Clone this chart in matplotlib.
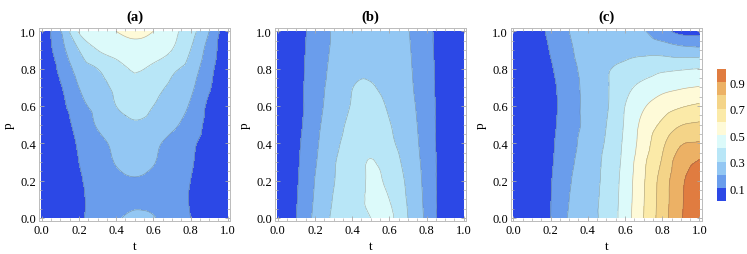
import numpy as np
import matplotlib
matplotlib.use("Agg")
import matplotlib.pyplot as plt
import matplotlib.tri as mtri
from matplotlib.colors import ListedColormap, BoundaryNorm
from matplotlib.ticker import MultipleLocator, FormatStrFormatter

plt.rcParams['font.family'] = ['Liberation Serif', 'DejaVu Serif']

# grid the values were read on (t across, p up)
t_grid = [0.0, 0.1, 0.2, 0.3, 0.4, 0.5, 0.6, 0.7, 0.8, 0.9, 1.0]
p_grid = [0.0, 0.1, 0.2, 0.3, 0.4, 0.5, 0.6, 0.7, 0.8, 0.9, 1.0]

# panel (a), one row per p value (bottom to top)
vals_a = [
    [0.02, 0.04, 0.085, 0.14, 0.19, 0.215, 0.205, 0.15, 0.10, 0.05, 0.02],
    [0.02, 0.04, 0.085, 0.13, 0.17, 0.185, 0.175, 0.14, 0.095, 0.05, 0.02],
    [0.02, 0.05, 0.09, 0.14, 0.18, 0.195, 0.18, 0.14, 0.10, 0.05, 0.02],
    [0.02, 0.05, 0.10, 0.15, 0.205, 0.225, 0.205, 0.15, 0.11, 0.05, 0.02],
    [0.02, 0.05, 0.11, 0.17, 0.22, 0.25, 0.22, 0.17, 0.12, 0.06, 0.02],
    [0.02, 0.06, 0.13, 0.21, 0.26, 0.29, 0.27, 0.22, 0.16, 0.07, 0.02],
    [0.02, 0.07, 0.17, 0.23, 0.30, 0.33, 0.30, 0.25, 0.19, 0.08, 0.02],
    [0.02, 0.09, 0.20, 0.26, 0.32, 0.38, 0.33, 0.28, 0.22, 0.11, 0.02],
    [0.02, 0.12, 0.24, 0.30, 0.36, 0.41, 0.38, 0.32, 0.26, 0.13, 0.02],
    [0.02, 0.16, 0.30, 0.40, 0.44, 0.47, 0.45, 0.40, 0.30, 0.16, 0.02],
    [0.02, 0.19, 0.41, 0.45, 0.50, 0.52, 0.50, 0.43, 0.34, 0.20, 0.02],
]

# panel (b)
vals_b = [
    [0.03, 0.10, 0.22, 0.315, 0.35, 0.40, 0.42, 0.30, 0.18, 0.05, 0.03],
    [0.03, 0.095, 0.21, 0.305, 0.35, 0.415, 0.40, 0.29, 0.175, 0.05, 0.03],
    [0.03, 0.09, 0.202, 0.295, 0.35, 0.41, 0.38, 0.28, 0.17, 0.05, 0.03],
    [0.03, 0.085, 0.19, 0.29, 0.35, 0.405, 0.35, 0.265, 0.165, 0.05, 0.03],
    [0.03, 0.08, 0.18, 0.275, 0.335, 0.37, 0.32, 0.25, 0.16, 0.05, 0.03],
    [0.03, 0.07, 0.17, 0.26, 0.32, 0.345, 0.305, 0.24, 0.155, 0.05, 0.03],
    [0.03, 0.065, 0.16, 0.245, 0.305, 0.325, 0.29, 0.23, 0.15, 0.05, 0.03],
    [0.03, 0.07, 0.155, 0.235, 0.298, 0.305, 0.275, 0.22, 0.145, 0.05, 0.03],
    [0.03, 0.07, 0.145, 0.225, 0.275, 0.29, 0.27, 0.215, 0.14, 0.05, 0.03],
    [0.03, 0.07, 0.135, 0.215, 0.26, 0.28, 0.26, 0.21, 0.135, 0.05, 0.03],
    [0.03, 0.07, 0.13, 0.21, 0.25, 0.27, 0.25, 0.205, 0.13, 0.05, 0.03],
]

# panel (c)
vals_c = [
    [0.02, 0.05, 0.10, 0.21, 0.27, 0.33, 0.45, 0.60, 0.75, 0.89, 0.975],
    [0.02, 0.05, 0.098, 0.20, 0.265, 0.33, 0.445, 0.595, 0.745, 0.885, 0.97],
    [0.02, 0.05, 0.095, 0.19, 0.26, 0.325, 0.44, 0.59, 0.74, 0.88, 0.96],
    [0.02, 0.05, 0.09, 0.175, 0.26, 0.32, 0.43, 0.58, 0.71, 0.86, 0.91],
    [0.02, 0.05, 0.087, 0.16, 0.25, 0.31, 0.42, 0.55, 0.68, 0.79, 0.81],
    [0.02, 0.06, 0.083, 0.15, 0.23, 0.30, 0.41, 0.53, 0.62, 0.695, 0.715],
    [0.02, 0.065, 0.08, 0.145, 0.235, 0.29, 0.40, 0.49, 0.55, 0.59, 0.615],
    [0.02, 0.07, 0.083, 0.15, 0.235, 0.29, 0.37, 0.43, 0.47, 0.49, 0.505],
    [0.02, 0.07, 0.092, 0.165, 0.24, 0.29, 0.32, 0.35, 0.38, 0.39, 0.40],
    [0.02, 0.065, 0.105, 0.185, 0.24, 0.27, 0.28, 0.275, 0.26, 0.235, 0.225],
    [0.02, 0.06, 0.12, 0.20, 0.25, 0.27, 0.26, 0.21, 0.13, 0.07, 0.06],
]

titles = ['(a)', '(b)', '(c)']
levels = [0.0, 0.1, 0.2, 0.3, 0.4, 0.5, 0.6, 0.7, 0.8, 0.9, 1.0]
cbar_ticks = [0.1, 0.3, 0.5, 0.7, 0.9]
band_colors = ['#2c48e6', '#6a9dec', '#93c7f3', '#b8e6f7', '#dcfafa',
               '#fefad8', '#fbeaa8', '#f4d488', '#ecb165', '#e07c40']

cmap = ListedColormap(band_colors)
norm = BoundaryNorm(levels, cmap.N)

W, H = 747, 255
fig = plt.figure(figsize=(W / 100, H / 100), dpi=100)

x0s = [41.7, 277.7, 513.4]   # pixel of t=0 for each panel
span_x, span_y = 186.0, 186.7
y_top, y_bot = 32.3, 219.0
pad = 0.015

T, P = np.meshgrid(t_grid, p_grid)
tri = mtri.Triangulation(T.ravel(), P.ravel())
refiner = mtri.UniformTriRefiner(tri)

cf = None
for x0, vals, title in zip(x0s, [vals_a, vals_b, vals_c], titles):
    left = (x0 - pad * span_x) / W
    bottom = (H - y_bot - pad * span_y) / H
    ax = fig.add_axes([left, bottom, span_x * (1 + 2 * pad) / W, span_y * (1 + 2 * pad) / H])
    z = np.array(vals).ravel()
    # smooth the drawn contours with matplotlib's own refiner
    interp = mtri.CubicTriInterpolator(tri, z, kind='geom')
    tri_f, z_f = refiner.refine_field(z, triinterpolator=interp, subdiv=3)
    z_f = np.clip(z_f, 0.001, 0.999)
    cf = ax.tricontourf(tri_f, z_f, levels=levels, cmap=cmap, norm=norm)
    ax.tricontour(tri_f, z_f, levels=levels[1:-1], colors='#555555',
                  linewidths=0.45, alpha=0.45)
    ax.set_xlim(-pad, 1 + pad)
    ax.set_ylim(-pad, 1 + pad)
    ax.xaxis.set_major_locator(MultipleLocator(0.2))
    ax.yaxis.set_major_locator(MultipleLocator(0.2))
    ax.xaxis.set_minor_locator(MultipleLocator(0.05))
    ax.yaxis.set_minor_locator(MultipleLocator(0.05))
    ax.xaxis.set_major_formatter(FormatStrFormatter('%.1f'))
    ax.yaxis.set_major_formatter(FormatStrFormatter('%.1f'))
    ax.tick_params(which='both', direction='in', top=True, right=True,
                   color='#aaaaaa', labelsize=9, pad=2)
    ax.tick_params(which='major', length=3.5, width=0.6)
    ax.tick_params(which='minor', length=2, width=0.5)
    for s in ax.spines.values():
        s.set_color('#bbbbbb')
        s.set_linewidth(0.7)
    ax.set_xlabel('t', fontsize=9.5, labelpad=3)
    ax.set_ylabel('p', fontsize=9.5, labelpad=4)
    ax.set_title(title, fontsize=10.5, fontweight='bold', pad=6)

cax = fig.add_axes([716.7 / W, (H - 202.3) / H, 9 / W, 132.3 / H])
cb = fig.colorbar(cf, cax=cax, ticks=cbar_ticks)
cb.outline.set_visible(False)
cb.ax.minorticks_off()
cb.ax.tick_params(length=0, labelsize=9, pad=3)
cb.ax.yaxis.set_major_formatter(FormatStrFormatter('%.1f'))

fig.savefig('out.png', dpi=100)
